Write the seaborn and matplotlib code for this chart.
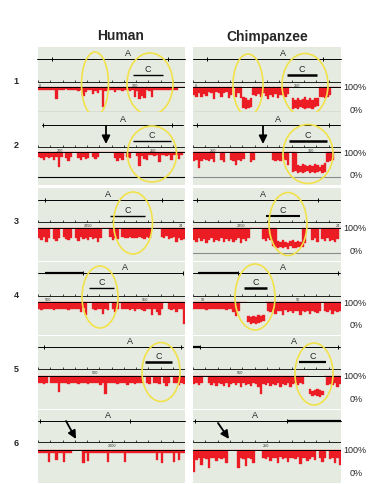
import numpy as np
import pandas as pd
import matplotlib
matplotlib.use("Agg")
import matplotlib.pyplot as plt
import seaborn as sns
from matplotlib.patches import Ellipse

# ---------------- data (percent identity, 60 windows per panel) ----------------
columns = ["Human", "Chimpanzee"]
row_labels = ["1", "2", "3", "4", "5", "6"]

# lower edge of the red trace (% identity); None = no aligned sequence
hum1_lo = [90,90,88,90,90,90,88,52,90,88, 90,92,90,88,90,90,86,90,64,80,
           88,90,72,86,76,90,20,86,90,88, 90,82,90,90,86,90,90,84,90,60,
           86,52,64,56,88,84,60,88,90,90, 88,90,90,88,90,90,90,None,None,None]
hum2_lo = [80,76,70,80,78,82,70,80,40,80, None,76,66,80,None,None,76,70,80,74,
           78,None,80,72,82,None,None,None,None,None, None,76,64,78,70,None,80,76,None,None,
           86,44,86,72,70,88,88,86,88,60, 88,88,86,88,70,88,88,74,88,None]
hum3_lo = [60,52,64,44,60,None,56,48,60,None, 64,56,52,60,None,60,48,64,56,60,
           52,64,56,60,44,60,None,None,None,64, 52,60,56,None,66,62,60,64,60,62,
           60,64,62,58,64,60,None,None,None,None, 64,60,68,56,60,64,44,60,52,56]
hum4_lo = [72,70,72,72,71,72,70,72,72,71, 72,72,70,72,72,72,71,60,76,48,
           None,None,72,70,72,72,52,72,70,None, 72,60,72,None,74,72,72,70,72,64,
           72,72,70,66,72,72,50,72,60,48, 72,None,None,72,70,72,60,72,72,12]
hum5_lo = [72,72,70,72,None,74,72,74,36,72, 74,72,70,74,72,74,68,72,74,72,
           70,74,72,74,72,66,72,28,74,72, 74,72,70,74,72,74,66,72,74,70,
           72,74,72,None,72,70,None,72,74,70, None,72,60,72,None,72,74,64,72,70]
hum6_lo = [90,90,88,90,52,90,90,60,88,90, 54,90,88,90,None,None,None,None,50,88,
           56,90,90,88,90,90,90,88,54,90, 90,88,90,90,90,52,90,88,90,90,
           88,90,90,90,88,90,90,90,62,90, 50,88,90,90,90,52,90,60,88,90]

chimp1_lo = [70,62,75,60,72,64,80,78,52,80, 76,60,78,80,56,70,None,60,78,55,
             15,12,18,20,70,64,72,60,75,66, 52,70,62,74,58,70,70,60,72,None,
             14,18,12,20,15,12,18,16,12,20, 24,60,62,58,60,70,None,None,None,None]
chimp2_lo = [64,70,36,66,72,68,64,72,60,None, None,68,62,None,None,70,64,50,68,66,
             72,None,None,62,70,None,None,None,None,None, None,None,68,64,70,66,None,70,50,None,
             20,25,18,22,16,20,24,18,22,16, 20,25,18,22,60,64,70,None,None,None]
chimp3_lo = [52,44,60,48,56,40,52,60,46,54, 48,60,44,56,50,58,46,52,60,42,
             56,48,62,None,None,None,None,None,56,48, 60,52,30,24,22,26,20,24,18,28,
             22,20,26,24,24,40,None,None,52,60, 46,None,56,48,62,50,54,44,58,None]
chimp4_lo = [72,72,71,72,72,70,72,72,72,71, 72,72,72,70,72,72,60,44,64,None,
             None,None,20,14,16,12,18,22,26,None, 66,60,68,52,66,64,50,68,62,66,
             56,66,64,48,66,60,66,52,64,62, 58,66,None,66,60,68,52,66,60,64]
chimp5_lo = [70,72,66,72,None,None,72,66,72,60, 72,70,62,72,56,70,72,64,72,58,
             72,66,70,60,72,68,56,28,70,64, 72,60,70,66,72,56,70,64,72,58,
             70,72,64,72,70,None,None,28,20,24, 22,18,26,None,66,70,64,72,58,70]
chimp6_lo = [12,62,68,40,70,66,30,68,70,56, 68,64,70,48,None,None,None,None,28,68,
             64,36,70,66,50,None,None,None,70,66, 72,56,70,68,48,72,66,70,52,68,
             70,64,72,44,68,70,56,66,72,60, None,68,52,70,None,66,70,50,68,40]

# upper edge (% identity) of windows whose trace does not reach 100 %
chimp1_hi = {20: 60, 21: 55, 22: 50, 23: 58, 40: 55, 41: 50, 42: 58, 43: 48, 44: 52,
             45: 60, 46: 50, 47: 55, 48: 48, 49: 58, 50: 55}
chimp2_hi = {42: 50, 43: 45, 44: 52, 45: 48, 46: 44, 47: 50, 48: 46, 49: 52, 50: 48,
             51: 42, 52: 50, 53: 55}
chimp3_hi = {34: 50, 35: 44, 36: 52, 37: 46, 38: 42, 39: 48, 40: 54, 41: 44, 42: 50, 43: 46}
chimp4_hi = {22: 44, 23: 40, 24: 46, 25: 42, 26: 48, 27: 44, 28: 50}
chimp5_hi = {47: 48, 48: 42, 49: 46, 50: 50, 51: 44, 52: 40}

lo_data = [[hum1_lo, chimp1_lo], [hum2_lo, chimp2_lo], [hum3_lo, chimp3_lo],
           [hum4_lo, chimp4_lo], [hum5_lo, chimp5_lo], [hum6_lo, chimp6_lo]]
hi_data = {(0, 1): chimp1_hi, (1, 1): chimp2_hi, (2, 1): chimp3_hi,
           (3, 1): chimp4_hi, (4, 1): chimp5_hi}

ruler_labels = {(0, 0): [(40, "0"), (135, "200")], (0, 1): [(196, "0"), (297, "250")],
                (1, 0): [(60, "200"), (153, "250")], (1, 1): [(213, "250"), (311, "300")],
                (2, 0): [(88, "2350"), (181, "24")], (2, 1): [(241, "2350"), (338, "24")],
                (3, 0): [(48, "500"), (145, "550")], (3, 1): [(203, "50"), (298, "50")],
                (4, 0): [(95, "500")], (4, 1): [(240, "550")],
                (5, 0): [(112, "2000")], (5, 1): [(266, "250")]}

# ---------------- layout (pixels) ----------------
FW, FH = 374, 485
X0 = [38, 193]
X1 = [185, 341]
Y100 = [88, 153, 229, 303, 377, 451]
YA = [60, 126, 201, 274, 348, 422]
YC = [76, 142, 217, 289, 363, None]
YR = [83, 148, 223, 297, 370, 443]
TOP_PAD, BOT_PAD = 40, 33
NB = 60
SC = 4.0  # percent per pixel

RED = "#ec1c24"
YEL = "#f1e24a"
BG = "#e6ebe2"

# A-region lines: line start/end, A span start/end, label x, thick pieces
a_lines = {(0, 0): (37, 185, 52, 168, 128, []), (0, 1): (193, 341, 207, 323, 283, []),
           (1, 0): (42, 183, 43, 172, 123, []), (1, 1): (193, 340, 197, 329, 278, []),
           (2, 0): (38, 183, 45, 162, 108, []), (2, 1): (193, 340, 197, 318, 263, []),
           (3, 0): (38, 183, 83, 183, 125, [(45, 83)]), (3, 1): (193, 340, 238, 338, 283, [(198, 238)]),
           (4, 0): (38, 183, 44, 181, 130, []), (4, 1): (193, 340, 200, 338, 294, [(193, 200)]),
           (5, 0): (38, 185, 40, 130, 108, []), (5, 1): (193, 341, 195, 287, 255, [(287, 341)])}
c_bars = {(0, 0): (133, 163, 1.0), (0, 1): (287, 317, 1.8), (1, 0): (133, 171, 1.0),
          (1, 1): (289, 327, 1.8), (2, 0): (110, 145, 1.0), (2, 1): (266, 300, 1.5),
          (3, 0): (89, 114, 1.0), (3, 1): (244, 267, 1.8), (4, 0): (145, 172, 1.8),
          (4, 1): (299, 326, 1.6)}
ellipses = {(0, 0): [(95, 85, 27, 64), (150, 85, 46, 62)],
            (0, 1): [(248, 86, 30, 62), (305, 86, 46, 63)],
            (1, 0): [(152, 155, 49, 56)], (1, 1): [(308, 155, 50, 59)],
            (2, 0): [(133, 224, 39, 62)], (2, 1): [(288, 225, 38, 63)],
            (3, 0): [(100, 298, 36, 62)], (3, 1): [(255, 298, 40, 66)],
            (4, 0): [(161, 373, 38, 59)], (4, 1): [(314, 375, 38, 62)]}
arrows = {(1, 0): ((106, 127), (106, 145)), (1, 1): ((263, 127), (263, 145)),
          (5, 0): ((66, 422), (76, 440)), (5, 1): ((218, 424), (229, 440))}
zero_lines = {(0, 0): "black", (0, 1): "black", (1, 0): "black", (1, 1): "#8a8a8a", (2, 1): "#8a8a8a"}

sns.set_theme(style="white")
plt.rcParams["font.family"] = ["Liberation Sans", "DejaVu Sans"]

fig = plt.figure(figsize=(FW / 100, FH / 100), dpi=100)
fig.patch.set_facecolor("white")


def fx(x):
    return x / FW


def fy(y):
    return 1 - y / FH


for r in range(6):
    for c in range(2):
        w = X1[c] - X0[c]
        top = Y100[r] - TOP_PAD
        h = TOP_PAD + BOT_PAD
        ax = fig.add_axes([fx(X0[c]), fy(top + h), w / FW, h / FH])
        ax.set_facecolor(BG)

        def xd(xp, c=c):
            return (xp - X0[c]) / (X1[c] - X0[c]) * NB - 0.5

        def yd(yp, r=r):
            return (yp - Y100[r]) * SC

        lo = np.array([100.0 if v is None else float(v) for v in lo_data[r][c]])
        hi = np.full(NB, 100.0)
        for k, v in hi_data.get((r, c), {}).items():
            hi[k] = v
        hi = np.where(lo >= 100, 100.0, hi)
        df = pd.DataFrame({"pos": np.arange(NB), "depth": hi - lo})
        sns.barplot(data=df, x="pos", y="depth", bottom=100 - hi, width=1.0,
                    color=RED, saturation=1, errorbar=None, linewidth=0.25,
                    edgecolor=RED, ax=ax, zorder=2)

        ax.set_xlim(-0.5, NB - 0.5)
        ax.set_ylim(BOT_PAD * SC, -TOP_PAD * SC)
        ax.set_xticks([])
        ax.set_yticks([])
        ax.set_xlabel("")
        ax.set_ylabel("")
        for s in ax.spines.values():
            s.set_visible(False)

        # 100% line and 0% line
        ax.axhline(0, color="black", lw=0.7, zorder=3)
        if (r, c) in zero_lines:
            ax.axhline(100, color=zero_lines[(r, c)], lw=0.8, zorder=3)

        # ruler
        ry = yd(YR[r])
        ax.plot([-0.5, NB - 0.5], [ry, ry], color="black", lw=0.6, zorder=3)
        ax.vlines(np.arange(-0.5, NB, 5), ry - 9, ry, color="black", lw=0.5, zorder=3)
        for xp, t in ruler_labels[(r, c)]:
            ax.text(xd(xp), ry + 3, t, fontsize=2.8, ha="center", va="top", color="#333333")

        # A region
        l0, l1, a0, a1, alx, thick = a_lines[(r, c)]
        ay = yd(YA[r])
        ax.plot([xd(l0), xd(l1)], [ay, ay], color="black", lw=0.7, zorder=3, clip_on=False)
        ax.vlines([xd(a0), xd(a1)], ay - 9, ay + 9, color="black", lw=0.7, zorder=3)
        for t0, t1 in thick:
            ax.plot([xd(t0), xd(t1)], [ay, ay], color="black", lw=1.6, zorder=3,
                    solid_capstyle="butt")
        ax.text(xd(alx), ay - 6 * SC, "A", fontsize=6.5, ha="center", va="center")

        # C region
        if (r, c) in c_bars:
            c0, c1, lw = c_bars[(r, c)]
            cy = yd(YC[r])
            ax.plot([xd(c0), xd(c1)], [cy, cy], color="black", lw=lw, zorder=3,
                    solid_capstyle="butt")
            ax.text(xd((c0 + c1) / 2), cy - 6 * SC, "C", fontsize=6.5, ha="center", va="center")

        # ellipses
        for cx, cy, ew, eh in ellipses.get((r, c), []):
            ax.add_patch(Ellipse((xd(cx), yd(cy)), ew / (X1[c] - X0[c]) * NB, eh * SC,
                                 fill=False, edgecolor=YEL, lw=1.2, zorder=5, clip_on=False))

        # arrows
        if (r, c) in arrows:
            (tx, ty), (hx, hy) = arrows[(r, c)]
            ax.annotate("", xy=(xd(hx), yd(hy)), xytext=(xd(tx), yd(ty)),
                        arrowprops=dict(arrowstyle="-|>", color="black", lw=1.3,
                                        mutation_scale=12, shrinkA=0, shrinkB=0),
                        annotation_clip=False, zorder=6)

    # right-hand scale labels and row number
    fig.text(fx(355), fy(Y100[r]), "100%", fontsize=6.5, ha="center", va="center")
    fig.text(fx(356), fy(Y100[r] + 23), "0%", fontsize=6.5, ha="center", va="center")
    fig.text(fx(16), fy(Y100[r] - 7), row_labels[r], fontsize=6.5, fontweight="bold",
             ha="center", va="center")

fig.text(fx(121), fy(36), columns[0], fontsize=10, fontweight="bold", ha="center", va="center")
fig.text(fx(267), fy(37), columns[1], fontsize=10, fontweight="bold", ha="center", va="center")

fig.savefig("out.png", dpi=100, facecolor="white")
